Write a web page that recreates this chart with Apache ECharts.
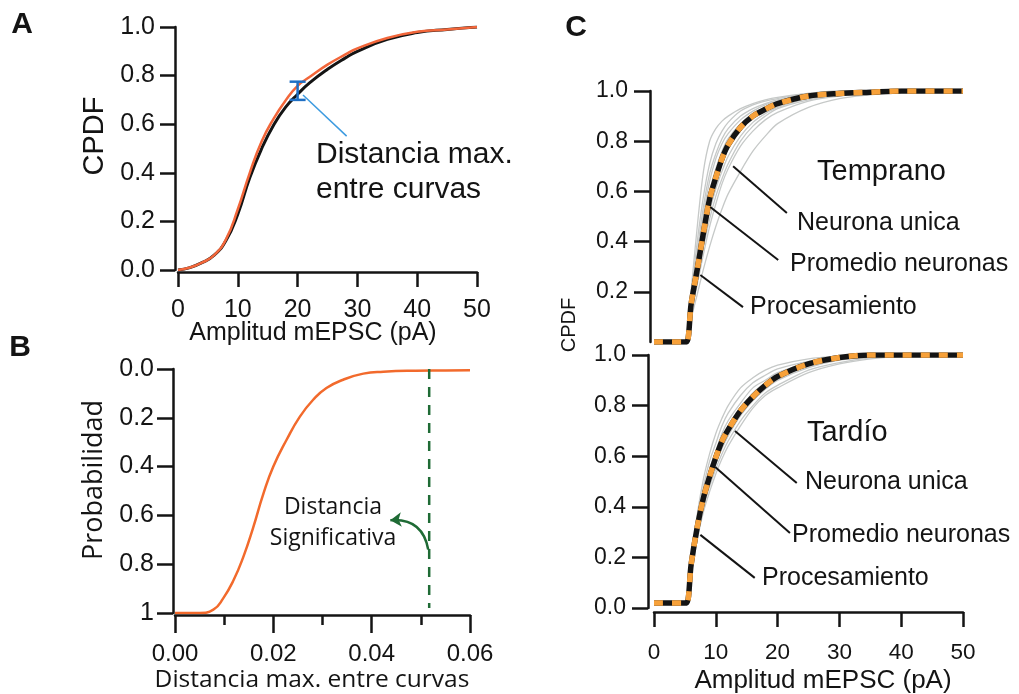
<!DOCTYPE html>
<html>
<head>
<meta charset="utf-8">
<script src="https://cdn.jsdelivr.net/npm/echarts@6/dist/echarts.min.js"></script>
<style>
  html, body { margin: 0; padding: 0; background: #ffffff; }
  #chart { width: 1019px; height: 694px; }
</style>
</head>
<body>
<div id="chart"></div>
<script>
// ---------- Panel A: cumulative distributions of mEPSC amplitude ----------
const ampA = [0, 2, 4, 6, 8, 10, 12, 14, 16, 18, 20, 22, 25, 28, 30, 35, 40, 45, 50];
const cdfBlackA = [0, 0.01, 0.03, 0.06, 0.12, 0.23, 0.38, 0.50, 0.597, 0.67, 0.723, 0.77, 0.826, 0.873, 0.90, 0.949, 0.977, 0.99, 1.0];
const cdfOrangeA = [0, 0.01, 0.03, 0.06, 0.125, 0.25, 0.40, 0.53, 0.623, 0.698, 0.758, 0.794, 0.845, 0.887, 0.912, 0.955, 0.98, 0.99, 1.0];
// x position, lower and upper end of the maximum-distance bar
const maxDistBarA = [20, 0.70, 0.775];
const ticksA = [0, 10, 20, 30, 40, 50];

// ---------- Panel B: probability of the maximum distance between curves ----------
const distB = [0, 0.005, 0.0078, 0.0098, 0.0119, 0.0139, 0.0159, 0.018, 0.02, 0.0227, 0.0254, 0.0281, 0.0308, 0.0342, 0.0383, 0.0424, 0.049, 0.055, 0.06];
const probB = [1.0, 1.0, 0.986, 0.94, 0.866, 0.77, 0.65, 0.51, 0.40, 0.29, 0.195, 0.126, 0.078, 0.044, 0.019, 0.011, 0.007, 0.006, 0.005];
const significantDistB = 0.0517;

// ---------- Panel C: single neurons, neuron average and processed curve ----------
const ampC = [0, 4.5, 5.3, 6, 7, 8, 9, 10, 11, 12, 14, 16, 18, 20, 25, 30, 35, 40, 50];
const earlyMean = [0, 0, 0, 0.15, 0.29, 0.435, 0.57, 0.655, 0.73, 0.785, 0.855, 0.9, 0.927, 0.95, 0.98, 0.99, 0.995, 1, 1];
const earlyCells = [
  [0, 0, 0, 0.20, 0.46, 0.68, 0.80, 0.85, 0.88, 0.90, 0.93, 0.95, 0.965, 0.975, 0.99, 1, 1, 1, 1],
  [0, 0, 0, 0.18, 0.40, 0.58, 0.71, 0.79, 0.84, 0.875, 0.92, 0.945, 0.96, 0.97, 0.99, 1, 1, 1, 1],
  [0, 0, 0, 0.16, 0.34, 0.51, 0.64, 0.73, 0.79, 0.83, 0.885, 0.92, 0.945, 0.96, 0.985, 0.995, 1, 1, 1],
  [0, 0, 0, 0.15, 0.31, 0.47, 0.60, 0.69, 0.76, 0.81, 0.87, 0.91, 0.935, 0.955, 0.98, 0.99, 1, 1, 1],
  [0, 0, 0, 0.13, 0.26, 0.40, 0.52, 0.61, 0.68, 0.74, 0.82, 0.875, 0.91, 0.935, 0.97, 0.985, 0.995, 1, 1],
  [0, 0, 0, 0.11, 0.23, 0.35, 0.46, 0.55, 0.63, 0.69, 0.78, 0.84, 0.885, 0.915, 0.96, 0.98, 0.99, 1, 1],
  [0, 0, 0, 0.09, 0.19, 0.29, 0.38, 0.46, 0.53, 0.59, 0.68, 0.76, 0.82, 0.87, 0.935, 0.97, 0.985, 0.995, 1],
  [0, 0, 0, 0.12, 0.25, 0.38, 0.49, 0.58, 0.65, 0.71, 0.80, 0.86, 0.90, 0.93, 0.965, 0.985, 0.995, 1, 1],
  [0, 0, 0, 0.17, 0.36, 0.54, 0.67, 0.75, 0.81, 0.85, 0.90, 0.93, 0.95, 0.965, 0.985, 0.995, 1, 1, 1]
];
const lateMean = [0.02, 0.02, 0.02, 0.17, 0.32, 0.435, 0.52, 0.595, 0.66, 0.705, 0.78, 0.835, 0.88, 0.915, 0.965, 0.99, 1, 1, 1];
const lateCells = [
  [0.02, 0.02, 0.02, 0.18, 0.37, 0.51, 0.61, 0.69, 0.75, 0.80, 0.87, 0.91, 0.94, 0.96, 0.985, 0.995, 1, 1, 1],
  [0.02, 0.02, 0.02, 0.17, 0.35, 0.48, 0.58, 0.65, 0.72, 0.77, 0.84, 0.89, 0.92, 0.945, 0.975, 0.99, 1, 1, 1],
  [0.02, 0.02, 0.02, 0.16, 0.32, 0.44, 0.53, 0.60, 0.66, 0.71, 0.79, 0.85, 0.89, 0.92, 0.96, 0.985, 0.995, 1, 1],
  [0.02, 0.02, 0.02, 0.14, 0.29, 0.40, 0.48, 0.55, 0.61, 0.66, 0.74, 0.80, 0.85, 0.88, 0.94, 0.97, 0.99, 1, 1],
  [0.02, 0.02, 0.02, 0.15, 0.30, 0.42, 0.50, 0.57, 0.63, 0.68, 0.76, 0.82, 0.865, 0.90, 0.95, 0.98, 0.99, 1, 1],
  [0.02, 0.02, 0.02, 0.17, 0.34, 0.46, 0.55, 0.62, 0.69, 0.74, 0.81, 0.87, 0.90, 0.93, 0.97, 0.99, 1, 1, 1],
  [0.02, 0.02, 0.02, 0.13, 0.27, 0.38, 0.46, 0.53, 0.59, 0.64, 0.72, 0.79, 0.84, 0.87, 0.93, 0.965, 0.985, 0.995, 1]
];
const cdfTicksC = [0.2, 0.4, 0.6, 0.8, 1.0];

// leader lines from the curves to their labels: [[x0, y0], [x1, y1]]
const earlyLeaders = {
  single:  [[12.8, 0.70], [21.5, 0.514]],
  average: [[9.1, 0.538], [20.1, 0.327]],
  process: [[7.5, 0.267], [14.4, 0.139]]
};
const lateLeaders = {
  single:  [[13.1, 0.70], [23.1, 0.494]],
  average: [[9.9, 0.557], [22.0, 0.296]],
  process: [[7.5, 0.289], [16.3, 0.119]]
};
const leaderA = [[20.9, 0.72], [28.2, 0.551]];

// ---------- styling ----------
const SANS = '"Liberation Sans", Arial, Helvetica, sans-serif';
const HUM = '"Open Sans", "Noto Sans", sans-serif';
const INK = '#141414';
const ORANGE_A = '#f2663a';
const ORANGE_B = '#f26a2c';
const ORANGE_C = '#f7a13a';
const GRAY = '#c6c9c8';
const GREEN = '#1f6b35';

const zip = (xs, ys) => xs.map((x, i) => [x, ys[i]]);

function axisBase(extra) {
  return Object.assign({
    type: 'value',
    splitLine: { show: false },
    axisLine: { show: true, onZero: false, lineStyle: { color: INK, width: 2.5 } },
    axisTick: { show: true, inside: false, length: 15, lineStyle: { color: INK, width: 2.5 } },
    axisLabel: { color: INK, fontFamily: SANS, fontSize: 24, margin: 20 }
  }, extra);
}
const tick = len => ({ show: true, inside: false, length: len, lineStyle: { color: INK, width: 2.5 } });
const lab = (size, margin, extra) => Object.assign({ color: INK, fontFamily: SANS, fontSize: size, margin: margin }, extra || {});

function curve(name, x, y, g, color, width, smooth, extra) {
  return Object.assign({
    name: name, type: 'line', xAxisIndex: g, yAxisIndex: g,
    data: zip(x, y), showSymbol: false, smooth: smooth,
    lineStyle: { color: color, width: width }, silent: true
  }, extra || {});
}

function leader(pts, g, color, width) {
  return {
    type: 'line', xAxisIndex: g, yAxisIndex: g, data: pts, showSymbol: false,
    lineStyle: { color: color, width: width }, silent: true, z: 5
  };
}

const series = [];

// Panel A
series.push(curve('control', ampA, cdfBlackA, 0, INK, 3, 0.5));
series.push(curve('test', ampA, cdfOrangeA, 0, ORANGE_A, 2.5, 0.5));
series.push({
  type: 'custom', xAxisIndex: 0, yAxisIndex: 0, data: [maxDistBarA], silent: true, z: 6,
  encode: { x: 0, y: [1, 2] },
  renderItem: function (params, api) {
    const x = api.value(0);
    const lo = api.coord([x, api.value(1)]);
    const hi = api.coord([x, api.value(2)]);
    const w = 8;
    const st = { stroke: '#1f6fc4', lineWidth: 2.5 };
    return {
      type: 'group', children: [
        { type: 'line', shape: { x1: lo[0], y1: lo[1], x2: hi[0], y2: hi[1] }, style: st },
        { type: 'line', shape: { x1: lo[0] - w, y1: lo[1], x2: lo[0] + w, y2: lo[1] }, style: st },
        { type: 'line', shape: { x1: hi[0] - w, y1: hi[1], x2: hi[0] + w, y2: hi[1] }, style: st }
      ]
    };
  }
});
series.push(leader(leaderA, 0, '#3d9be0', 1.5));

// Panel B
series.push(curve('probabilidad', distB, probB, 1, ORANGE_B, 2.5, 0.5));
series.push({
  type: 'line', xAxisIndex: 1, yAxisIndex: 1, silent: true, showSymbol: false,
  data: [[significantDistB, 0], [significantDistB, 0.98]],
  lineStyle: { color: GREEN, width: 2.5, type: [10, 8] }
});
series.push({
  type: 'lines', coordinateSystem: 'cartesian2d', xAxisIndex: 1, yAxisIndex: 1, silent: true,
  data: [{ coords: [[significantDistB - 0.0002, 0.74], [0.0438, 0.62]] }],
  symbol: ['none', 'arrow'], symbolSize: 11,
  lineStyle: { color: GREEN, width: 2.5, curveness: -0.45, opacity: 1 }
});

// Panel C, early and late
[[2, earlyCells, earlyMean, earlyLeaders], [3, lateCells, lateMean, lateLeaders]].forEach(function (p) {
  const g = p[0];
  p[1].forEach(function (c, i) {
    series.push(curve('neurona ' + (i + 1), ampC, c, g, GRAY, 1.3, 0.3));
  });
  series.push(curve('promedio', ampC, p[2], g, INK, 5.5, 0.3));
  series.push(curve('procesamiento', ampC, p[2], g, ORANGE_C, 5.5, 0.3, {
    lineStyle: { color: ORANGE_C, width: 5.5, type: [9, 9] }
  }));
  series.push(leader(p[3].single, g, INK, 2));
  series.push(leader(p[3].average, g, INK, 2));
  series.push(leader(p[3].process, g, INK, 2));
});

function txt(text, x, y, font, opts) {
  return Object.assign({
    type: 'text', x: x, y: y, silent: true,
    style: Object.assign({ text: text, font: font, fill: INK, align: 'left', verticalAlign: 'middle' }, (opts && opts.style) || {})
  }, (opts && opts.el) || {});
}
const rot = { el: { rotation: Math.PI / 2 }, style: { align: 'center' } };
const ctr = { style: { align: 'center' } };

const graphic = [
  txt('A', 22, 25, 'bold 30px ' + SANS, ctr),
  txt('B', 20, 348, 'bold 30px ' + SANS, ctr),
  txt('C', 576, 28, 'bold 30px ' + SANS, ctr),
  // panel A
  txt('CPDF', 95, 136, '29px ' + SANS, rot),
  txt('Amplitud mEPSC (pA)', 313, 333, '25px ' + SANS, ctr),
  txt('Distancia max.', 316, 155, '30px ' + SANS),
  txt('entre curvas', 316, 190, '30px ' + SANS),
  // panel B
  txt('Probabilidad', 94, 480, '27px ' + HUM, rot),
  txt('Distancia max. entre curvas', 312, 680, '24.5px ' + HUM, ctr),
  txt('Distancia', 333, 507, '23px ' + HUM, ctr),
  txt('Significativa', 333, 538, '23px ' + HUM, ctr),
  // panel C
  txt('CPDF', 569, 325, '20px ' + SANS, rot),
  txt('Temprano', 817, 172, '29px ' + SANS),
  txt('Neurona unica', 797, 223, '25px ' + SANS),
  txt('Promedio neuronas', 790, 264, '25px ' + SANS),
  txt('Procesamiento', 750, 307, '25px ' + SANS),
  txt('Tardío', 807, 433, '29px ' + SANS),
  txt('Neurona unica', 805, 482, '25px ' + SANS),
  txt('Promedio neuronas', 792, 535, '25px ' + SANS),
  txt('Procesamiento', 762, 578, '25px ' + SANS),
  txt('Amplitud mEPSC (pA)', 823, 681, '26px ' + SANS, ctr)
];

const option = {
  animation: false,
  backgroundColor: '#ffffff',
  grid: [
    { left: 178, top: 27, width: 299, height: 243 },
    { left: 175, top: 369, width: 295, height: 244 },
    { left: 654, top: 91, width: 309, height: 251 },
    { left: 654, top: 355, width: 309, height: 253 }
  ],
  xAxis: [
    axisBase({ gridIndex: 0, min: ticksA[0], max: ticksA[ticksA.length - 1], interval: 10, offset: 2,
      axisTick: tick(15), axisLabel: lab(25, 26) }),
    axisBase({ gridIndex: 1, min: 0, max: 0.06, interval: 0.02, offset: 2,
      axisTick: tick(18),
      minorTick: { show: true, splitNumber: 2, length: 10, lineStyle: { color: INK, width: 2.5 } },
      axisLabel: lab(24, 27, { formatter: v => v.toFixed(2) }) }),
    axisBase({ gridIndex: 2, min: 0, max: 50, interval: 10, show: false }),
    axisBase({ gridIndex: 3, min: 0, max: 50, interval: 10, offset: 4,
      axisTick: tick(15), axisLabel: lab(22.5, 29) })
  ],
  yAxis: [
    axisBase({ gridIndex: 0, min: 0, max: 1, interval: 0.2, offset: 3,
      axisTick: tick(15), axisLabel: lab(25, 20, { formatter: v => v.toFixed(1) }) }),
    axisBase({ gridIndex: 1, min: 0, max: 1, interval: 0.2, offset: 2, inverse: true,
      axisTick: tick(16), axisLabel: lab(25, 19, { formatter: v => (v === 1 ? '1' : v.toFixed(1)) }) }),
    axisBase({ gridIndex: 2, min: 0, max: 1, interval: 0.2, offset: 4,
      axisTick: Object.assign(tick(16), { customValues: cdfTicksC }),
      axisLabel: lab(23, 22, { customValues: cdfTicksC, formatter: v => v.toFixed(1) }) }),
    axisBase({ gridIndex: 3, min: 0, max: 1, interval: 0.2, offset: 6,
      axisTick: tick(16), axisLabel: lab(23, 22, { formatter: v => v.toFixed(1) }) })
  ],
  series: series,
  graphic: graphic
};

const chart = echarts.init(document.getElementById('chart'), null, { renderer: 'canvas' });
chart.setOption(option);
</script>
</body>
</html>
